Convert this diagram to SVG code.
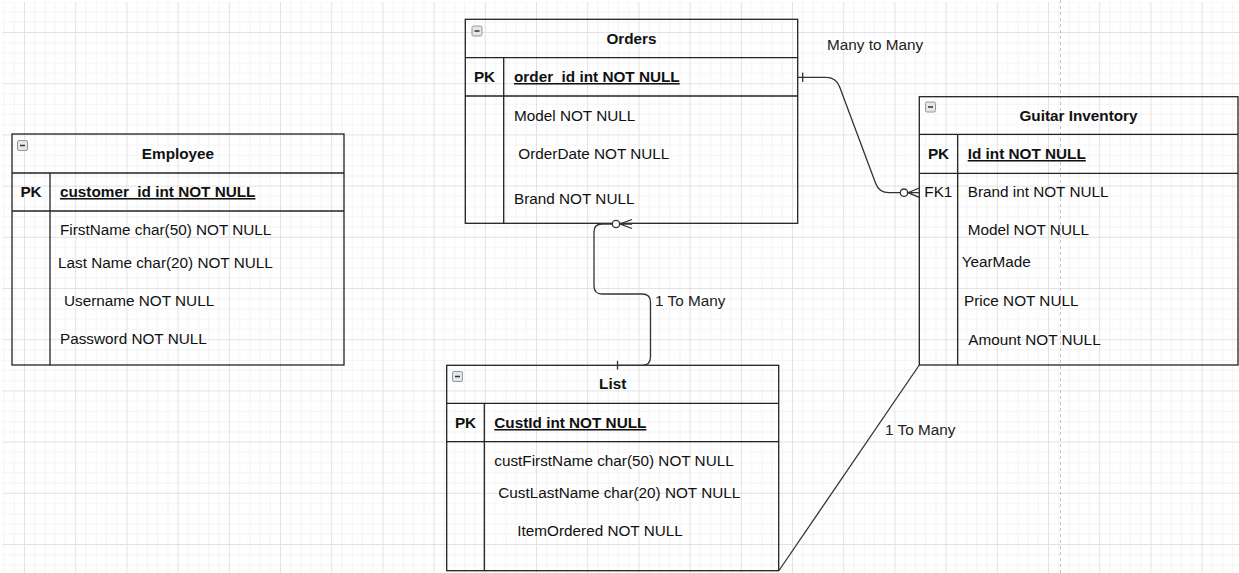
<svg xmlns="http://www.w3.org/2000/svg" width="1239" height="573" viewBox="0 0 1239 573">
<defs>
<style>
text{font-family:"Liberation Sans",Arial,Helvetica,sans-serif;font-size:15.3px;fill:#111}
.t{font-weight:bold;text-anchor:middle}
.pk{font-weight:bold;text-anchor:middle}
.key{font-weight:bold;text-decoration:underline}
.box{fill:none;stroke:#222;stroke-width:1.3}
.ln{stroke:#222;stroke-width:1.3;fill:none}
.edge{stroke:#333;stroke-width:1.3;fill:none}
.lbl{fill:#222}
.ic{fill:#e4e6e8;stroke:#8f99a3;stroke-width:1}
.icm{stroke:#333;stroke-width:1.5}
</style>
<pattern id="grid" x="24" y="32" width="51.2" height="51.2" patternUnits="userSpaceOnUse">
<rect x="10.24" y="0" width="1" height="51.2" fill="#f3f3f3"/>
<rect x="20.48" y="0" width="1" height="51.2" fill="#f3f3f3"/>
<rect x="30.72" y="0" width="1" height="51.2" fill="#f3f3f3"/>
<rect x="40.96" y="0" width="1" height="51.2" fill="#f3f3f3"/>
<rect x="0" y="10.24" width="51.2" height="1" fill="#f3f3f3"/>
<rect x="0" y="20.48" width="51.2" height="1" fill="#f3f3f3"/>
<rect x="0" y="30.72" width="51.2" height="1" fill="#f3f3f3"/>
<rect x="0" y="40.96" width="51.2" height="1" fill="#f3f3f3"/>
<rect x="0" y="0" width="1" height="51.2" fill="#e2e2e2"/>
<rect x="0" y="0" width="51.2" height="1" fill="#e2e2e2"/>
</pattern>
</defs>
<rect x="0" y="0" width="1239" height="573" fill="#fff"/>
<rect x="2" y="2" width="1237" height="571" fill="url(#grid)"/>
<line x1="1060.5" y1="0" x2="1060.5" y2="573" stroke="#c4c4c4" stroke-width="1" stroke-dasharray="3 3"/>

<g id="employee">
<rect class="box" x="12" y="134" width="332" height="231"/>
<line class="ln" x1="12" y1="173" x2="344" y2="173"/>
<line class="ln" x1="12" y1="211" x2="344" y2="211"/>
<line class="ln" x1="50" y1="173" x2="50" y2="365"/>
<rect class="ic" x="17.5" y="140.5" width="10" height="10" rx="1.5"/>
<line class="icm" x1="20" y1="145.5" x2="25" y2="145.5"/>
<text class="t" x="178" y="158.5">Employee</text>
<text class="pk" x="31" y="197">PK</text>
<text class="key" x="60" y="197">customer_id int NOT NULL</text>
<text x="60" y="234.5">FirstName char(50) NOT NULL</text>
<text x="58" y="268">Last Name char(20) NOT NULL</text>
<text x="64" y="306">Username NOT NULL</text>
<text x="60" y="344">Password NOT NULL</text>
</g>

<g id="orders">
<rect class="box" x="465.3" y="19.3" width="332.4" height="204"/>
<line class="ln" x1="465.3" y1="57.7" x2="797.7" y2="57.7"/>
<line class="ln" x1="465.3" y1="96" x2="797.7" y2="96"/>
<line class="ln" x1="503.7" y1="57.7" x2="503.7" y2="223.3"/>
<rect class="ic" x="472" y="26" width="10" height="10" rx="1.5"/>
<line class="icm" x1="474.5" y1="31" x2="479.5" y2="31"/>
<text class="t" x="631.5" y="43.5">Orders</text>
<text class="pk" x="484.5" y="82">PK</text>
<text class="key" x="514" y="82">order_id int NOT NULL</text>
<text x="514" y="120.5">Model NOT NULL</text>
<text x="518.3" y="158.5">OrderDate NOT NULL</text>
<text x="514" y="203.5">Brand NOT NULL</text>
</g>

<g id="guitar-inventory">
<rect class="box" x="919.3" y="96.7" width="318.7" height="268.3"/>
<line class="ln" x1="919.3" y1="134.3" x2="1238" y2="134.3"/>
<line class="ln" x1="919.3" y1="173.3" x2="1238" y2="173.3"/>
<line class="ln" x1="957.7" y1="134.3" x2="957.7" y2="365"/>
<rect class="ic" x="925.5" y="102" width="10" height="10" rx="1.5"/>
<line class="icm" x1="928" y1="107" x2="933" y2="107"/>
<text class="t" x="1078.5" y="120.5">Guitar Inventory</text>
<text class="pk" x="938.5" y="159">PK</text>
<text class="key" x="967.7" y="159">Id int NOT NULL</text>
<text x="924.3" y="197">FK1</text>
<text x="967.7" y="197">Brand int NOT NULL</text>
<text x="967.7" y="235">Model NOT NULL</text>
<text x="961.7" y="267">YearMade</text>
<text x="964" y="305.5">Price NOT NULL</text>
<text x="968.3" y="344.5">Amount NOT NULL</text>
</g>

<g id="list">
<rect class="box" x="446.7" y="365.3" width="332" height="205.4"/>
<line class="ln" x1="446.7" y1="403.3" x2="778.7" y2="403.3"/>
<line class="ln" x1="446.7" y1="441.7" x2="778.7" y2="441.7"/>
<line class="ln" x1="484.3" y1="403.3" x2="484.3" y2="570.7"/>
<rect class="ic" x="452.5" y="371.5" width="10" height="10" rx="1.5"/>
<line class="icm" x1="455" y1="376.5" x2="460" y2="376.5"/>
<text class="t" x="612.7" y="389">List</text>
<text class="pk" x="465.5" y="428">PK</text>
<text class="key" x="494.3" y="428">CustId int NOT NULL</text>
<text x="494.3" y="466">custFirstName char(50) NOT NULL</text>
<text x="498.3" y="498">CustLastName char(20) NOT NULL</text>
<text x="517.3" y="536">ItemOrdered NOT NULL</text>
</g>

<g id="connectors">
<path class="edge" d="M798,77.3 L826,77.3 Q836,77.3 839.5,86.5 L875.5,183 Q879,192.7 889,192.7 L900.3,192.7"/>
<line class="edge" x1="802.7" y1="72.5" x2="802.7" y2="82"/>
<circle cx="904" cy="192.7" r="3.7" fill="#fff" stroke="#333" stroke-width="1.3"/>
<path class="edge" d="M919.3,188 L908,192.7 L919.3,197.4 M907.7,192.7 L919.3,192.7"/>

<path class="edge" d="M617.5,365.3 L642,365.3 Q650.5,365.3 650.5,357 L650.5,302 Q650.5,294 642,294 L602,294 Q594,294 594,286 L594,232 Q594,224 602,224 L612.3,224"/>
<line class="edge" x1="617.5" y1="360.8" x2="617.5" y2="369.6"/>
<circle cx="616" cy="224" r="3.7" fill="#fff" stroke="#333" stroke-width="1.3"/>
<path class="edge" d="M632,219.5 L620,224 L632,228.5 M619.7,224 L632,224"/>

<line class="edge" x1="919.3" y1="365" x2="779" y2="570.5"/>

<text class="lbl" x="827" y="49.5">Many to Many</text>
<text class="lbl" x="655" y="305.5">1 To Many</text>
<text class="lbl" x="885" y="434.5">1 To Many</text>
</g>
</svg>
